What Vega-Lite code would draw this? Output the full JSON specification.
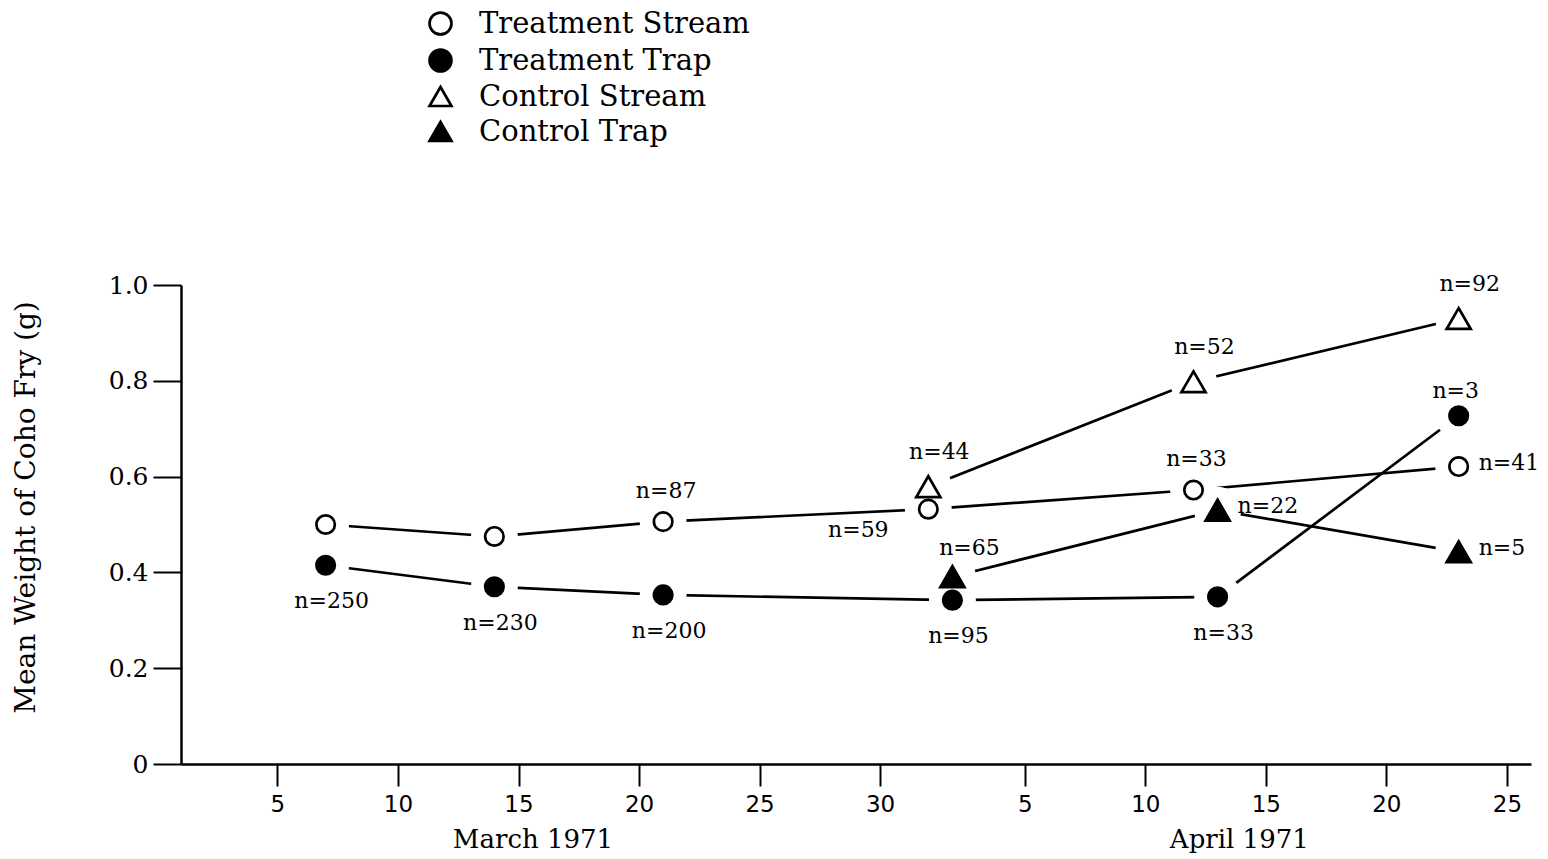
{
  "$schema": "https://vega.github.io/schema/vega-lite/v6.json",
  "width": 1350,
  "height": 479,
  "autosize": {"type": "none"},
  "padding": {"left": 181, "top": 285, "right": 17, "bottom": 95},
  "background": "white",
  "config": {
    "view": {"stroke": null},
    "font": "DejaVu Serif",
    "axis": {
      "domainColor": "black",
      "domainWidth": 2.5,
      "tickColor": "black",
      "tickWidth": 2,
      "labelColor": "black",
      "titleColor": "black",
      "grid": false
    },
    "legend": {
      "orient": "none",
      "legendX": 245,
      "legendY": -276,
      "padding": 0,
      "title": null,
      "labelFont": "DejaVu Serif",
      "labelFontSize": 29,
      "labelColor": "black",
      "labelLimit": 0,
      "symbolSize": 480,
      "symbolStrokeWidth": 2.7,
      "rowPadding": 4,
      "labelOffset": 24
    }
  },
  "datasets": {
    "fry": [
      {"series": "Treatment Stream", "day": 7, "weight": 0.500, "n": null},
      {"series": "Treatment Stream", "day": 14, "weight": 0.475, "n": null},
      {"series": "Treatment Stream", "day": 21, "weight": 0.506, "n": 87},
      {"series": "Treatment Stream", "day": 32, "weight": 0.532, "n": 59},
      {"series": "Treatment Stream", "day": 43, "weight": 0.572, "n": 33},
      {"series": "Treatment Stream", "day": 54, "weight": 0.621, "n": 41},
      {"series": "Treatment Trap", "day": 7, "weight": 0.415, "n": 250},
      {"series": "Treatment Trap", "day": 14, "weight": 0.370, "n": 230},
      {"series": "Treatment Trap", "day": 21, "weight": 0.353, "n": 200},
      {"series": "Treatment Trap", "day": 33, "weight": 0.342, "n": 95},
      {"series": "Treatment Trap", "day": 44, "weight": 0.349, "n": 33},
      {"series": "Treatment Trap", "day": 54, "weight": 0.727, "n": 3},
      {"series": "Control Stream", "day": 32, "weight": 0.579, "n": 44},
      {"series": "Control Stream", "day": 43, "weight": 0.798, "n": 52},
      {"series": "Control Stream", "day": 54, "weight": 0.930, "n": 92},
      {"series": "Control Trap", "day": 33, "weight": 0.391, "n": 65},
      {"series": "Control Trap", "day": 44, "weight": 0.530, "n": 22},
      {"series": "Control Trap", "day": 54, "weight": 0.443, "n": 5}
    ]
  },
  "layer": [
    {
      "data": {"name": "fry"},
      "encoding": {
        "x": {
          "field": "day",
          "type": "quantitative",
          "scale": {"domain": [1, 57], "nice": false, "zero": false},
          "axis": {
            "title": null,
            "values": [5, 10, 15, 20, 25, 30, 36, 41, 46, 51, 56],
            "labelExpr": "'' + (datum.value > 31 ? datum.value - 31 : datum.value)",
            "tickSize": 22,
            "labelPadding": 7,
            "labelFont": "DejaVu Sans",
            "labelFontSize": 23
          }
        },
        "y": {
          "field": "weight",
          "type": "quantitative",
          "scale": {"domain": [0, 1], "nice": false},
          "axis": {
            "title": "Mean Weight of Coho Fry (g)",
            "values": [0, 0.2, 0.4, 0.6, 0.8, 1.0],
            "labelExpr": "datum.value == 0 ? '0' : format(datum.value, '.1f')",
            "tickSize": 28,
            "labelPadding": 5,
            "labelFont": "DejaVu Serif",
            "labelFontSize": 25,
            "titleFont": "DejaVu Serif",
            "titleFontSize": 28,
            "titleFontWeight": "normal",
            "titleX": -155,
            "titleY": 222,
            "titleAngle": 270,
            "titleAlign": "center",
            "titleBaseline": "middle"
          }
        }
      },
      "layer": [
        {
          "mark": {"type": "line", "color": "black", "strokeWidth": 2.7},
          "encoding": {"detail": {"field": "series"}, "order": {"field": "day"}}
        },
        {
          "mark": {"type": "point", "shape": "circle", "filled": true, "fill": "white", "opacity": 1, "size": 2200, "strokeWidth": 0}
        },
        {
          "transform": [{"filter": "datum.series == 'Treatment Stream' || datum.series == 'Treatment Trap'"}],
          "mark": {"type": "point", "filled": true, "opacity": 1, "size": 340, "strokeWidth": 2.7},
          "encoding": {
            "shape": {"field": "series", "type": "nominal", "scale": {"domain": ["Treatment Stream", "Treatment Trap", "Control Stream", "Control Trap"], "range": ["circle", "circle", "triangle-up", "triangle-up"]}, "legend": {"symbolStrokeWidth": 2.7}},
            "fill": {"field": "series", "type": "nominal", "scale": {"domain": ["Treatment Stream", "Treatment Trap", "Control Stream", "Control Trap"], "range": ["white", "black", "white", "black"]}, "legend": {"symbolStrokeWidth": 2.7}},
            "stroke": {"field": "series", "type": "nominal", "scale": {"domain": ["Treatment Stream", "Treatment Trap", "Control Stream", "Control Trap"], "range": ["black", "black", "black", "black"]}, "legend": {"symbolStrokeWidth": 2.7}}
          }
        },
        {
          "transform": [{"filter": "datum.series == 'Control Stream' || datum.series == 'Control Trap'"}],
          "mark": {"type": "point", "filled": true, "opacity": 1, "size": 580, "strokeWidth": 2.7},
          "encoding": {
            "shape": {"field": "series", "type": "nominal", "scale": {"domain": ["Treatment Stream", "Treatment Trap", "Control Stream", "Control Trap"], "range": ["circle", "circle", "triangle-up", "triangle-up"]}, "legend": {"symbolStrokeWidth": 2.7}},
            "fill": {"field": "series", "type": "nominal", "scale": {"domain": ["Treatment Stream", "Treatment Trap", "Control Stream", "Control Trap"], "range": ["white", "black", "white", "black"]}, "legend": {"symbolStrokeWidth": 2.7}},
            "stroke": {"field": "series", "type": "nominal", "scale": {"domain": ["Treatment Stream", "Treatment Trap", "Control Stream", "Control Trap"], "range": ["black", "black", "black", "black"]}, "legend": {"symbolStrokeWidth": 2.7}}
          }
        },
        {
          "transform": [{"filter": "datum.series == 'Treatment Trap' && datum.day < 50"}, {"calculate": "'n=' + datum.n", "as": "label"}],
          "mark": {"type": "text", "font": "DejaVu Serif", "fontSize": 22, "color": "black", "dx": 6, "dy": 36},
          "encoding": {"text": {"field": "label"}}
        },
        {
          "transform": [{"filter": "datum.series == 'Treatment Trap' && datum.day > 50"}, {"calculate": "'n=' + datum.n", "as": "label"}],
          "mark": {"type": "text", "font": "DejaVu Serif", "fontSize": 22, "color": "black", "dx": -3, "dy": -25},
          "encoding": {"text": {"field": "label"}}
        },
        {
          "transform": [{"filter": "datum.series == 'Treatment Stream' && (datum.day == 21 || datum.day == 43)"}, {"calculate": "'n=' + datum.n", "as": "label"}],
          "mark": {"type": "text", "font": "DejaVu Serif", "fontSize": 22, "color": "black", "dx": 3, "dy": -31},
          "encoding": {"text": {"field": "label"}}
        },
        {
          "transform": [{"filter": "datum.series == 'Treatment Stream' && datum.day == 32"}, {"calculate": "'n=' + datum.n", "as": "label"}],
          "mark": {"type": "text", "font": "DejaVu Serif", "fontSize": 22, "color": "black", "dx": -70, "dy": 21},
          "encoding": {"text": {"field": "label"}}
        },
        {
          "transform": [{"filter": "(datum.series == 'Treatment Stream' && datum.day == 54) || (datum.series == 'Control Trap' && datum.day > 40)"}, {"calculate": "'n=' + datum.n", "as": "label"}],
          "mark": {"type": "text", "font": "DejaVu Serif", "fontSize": 22, "color": "black", "align": "left", "dx": 20, "dy": -4},
          "encoding": {"text": {"field": "label"}}
        },
        {
          "transform": [{"filter": "datum.series == 'Control Stream'"}, {"calculate": "'n=' + datum.n", "as": "label"}],
          "mark": {"type": "text", "font": "DejaVu Serif", "fontSize": 22, "color": "black", "dx": 11, "dy": -35},
          "encoding": {"text": {"field": "label"}}
        },
        {
          "transform": [{"filter": "datum.series == 'Control Trap' && datum.day < 40"}, {"calculate": "'n=' + datum.n", "as": "label"}],
          "mark": {"type": "text", "font": "DejaVu Serif", "fontSize": 22, "color": "black", "dx": 17, "dy": -29},
          "encoding": {"text": {"field": "label"}}
        }
      ]
    },
    {
      "data": {"values": [{"month": "March 1971"}]},
      "mark": {"type": "text", "font": "DejaVu Serif", "fontSize": 26, "color": "black", "baseline": "middle"},
      "encoding": {
        "x": {"datum": 15.6, "type": "quantitative"},
        "y": {"datum": -0.158, "type": "quantitative"},
        "text": {"field": "month"}
      }
    },
    {
      "data": {"values": [{"month": "April 1971"}]},
      "mark": {"type": "text", "font": "DejaVu Serif", "fontSize": 26, "color": "black", "baseline": "middle"},
      "encoding": {
        "x": {"datum": 44.9, "type": "quantitative"},
        "y": {"datum": -0.158, "type": "quantitative"},
        "text": {"field": "month"}
      }
    }
  ]
}
